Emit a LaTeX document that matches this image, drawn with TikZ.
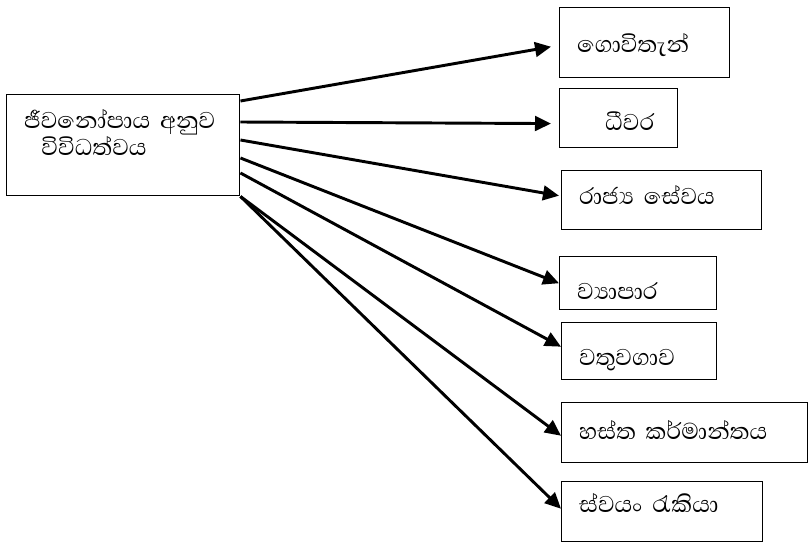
\documentclass[tikz,border=0pt]{standalone}
\usepackage{fontspec}
\setmainfont[Script=Sinhala]{Abhaya Libre}
\usetikzlibrary{arrows.meta}

\begin{document}
\begin{tikzpicture}[x=0.75pt,y=-0.75pt]
\tikzset{box style/.style 2 args = {draw, line width=1.1pt, anchor=north west, align=left,
   inner xsep=13pt, inner ysep=0pt, text width=#1, minimum height=#2,
   font=\fontsize{22}{19}\selectfont}}
\tikzset{lift/.style = {text height=#1, text depth=0pt}}
\tikzset{arrow style/.style = {line width=2.2pt, -{Triangle[length=12pt,width=11pt]}}}
\useasboundingbox (0,0) rectangle (809,542);
   \node[box style={148.75pt}{75.75pt}] (jivana) at (6,94) {ජීවනෝපාය අනුව\\\hspace*{13pt}විවිධත්වය\\~};
   \node[box style={101.5pt}{52.5pt}, lift=14.5pt] (govi) at (559,7) {ගොවිතැන්};
   \node[box style={62.5pt}{44.25pt}, lift=18pt] (dhivara) at (559,88) {\hspace*{21pt}ධීවර};
   \node[box style={124pt}{44.25pt}, lift=6pt] (rajya) at (561,170) {රාජ්‍ය සේවය};
   \node[box style={91.75pt}{39.75pt}, lift=25pt] (vyapara) at (559,256) {ව්‍යාපාර};
   \node[box style={90.25pt}{42.75pt}, lift=22pt] (watu) at (561,322) {වතුවගාව};
   \node[box style={158.5pt}{45pt}, lift=10pt] (hasta) at (561,402) {හස්ත කර්මාන්තය};
   \node[box style={124.75pt}{45pt}, lift=1pt] (swayan) at (561,481) {ස්වයං රැකියා};
   \draw[arrow style] ([yshift=-5.25pt]jivana.north east) -- ([yshift=-3pt,xshift=-6pt]govi.west);
   \draw[arrow style] ([yshift=-21pt]jivana.north east) -- ([yshift=-4pt,xshift=-6pt]dhivara.west);
   \draw[arrow style] ([yshift=-34.5pt]jivana.north east) -- ([yshift=3.4pt,xshift=-1.5pt]rajya.west);
   \draw[arrow style] ([yshift=-48pt]jivana.north east) -- (vyapara.west);
   \draw[arrow style] ([yshift=-59.25pt]jivana.north east) -- ([yshift=3.4pt]watu.west);
   \draw[arrow style] (jivana.south east) -- ([yshift=-2.25pt]hasta.west);
   \draw[arrow style] (jivana.south east) -- ([yshift=2.25pt]swayan.west);
\end{tikzpicture}
\end{document}
